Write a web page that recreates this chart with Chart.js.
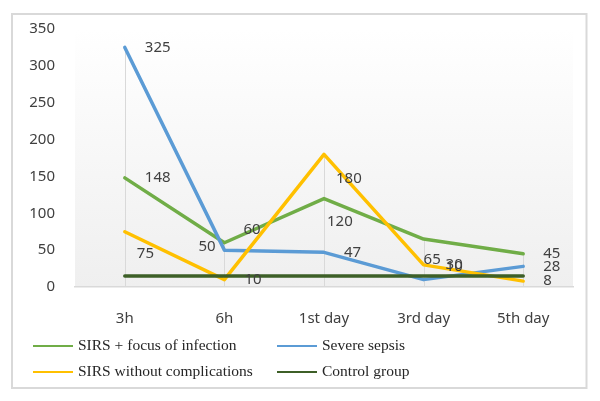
<!DOCTYPE html>
<html>
<head>
<meta charset="utf-8">
<script src="https://cdn.jsdelivr.net/npm/chart.js@4"></script>
<style>
  html, body { margin: 0; padding: 0; background: #fff; }
  canvas { display: block; }
</style>
</head>
<body>
<canvas id="chart" width="600" height="401"></canvas>
<script>
const categories = ['3h', '6h', '1st day', '3rd day', '5th day'];
const focusInfection = [148, 60, 120, 65, 45];
const severeSepsis = [325, 50, 47, 10, 28];
const sirsNoComplications = [75, 10, 180, 30, 8];
const controlGroup = [15, 15, 15, 15, 15];
const seriesNames = ['SIRS + focus of infection', 'Severe sepsis', 'SIRS without complications', 'Control group'];
const yMin = 0;
const yMax = 350;
const yStep = 50;

const colors = ['#70AD47', '#5B9BD5', '#FFC000', '#3D5F27'];
// where each value label sits relative to its point (dx, dy), null = no labels
const labelOffsets = [
  [[20, 0], [19, -13], [3, 23], [0, 21], [20, 0]],
  [[20, 0], [-26, -3], [20, 0], [22, -13], [20, 0]],
  [[12, 22], [20, 0], [12, 24], [22, 0], [20, 0]],
  null,
];

const sansFont = '"Noto Sans", sans-serif';
const serifFont = '"Liberation Serif", serif';

const frame = {
  id: 'frame',
  beforeDraw(chart) {
    const { ctx, chartArea: a } = chart;
    ctx.save();
    const g = ctx.createLinearGradient(0, a.top, 0, a.bottom);
    g.addColorStop(0, '#ffffff');
    g.addColorStop(1, '#efefef');
    ctx.fillStyle = g;
    ctx.fillRect(a.left, a.top, a.right - a.left, a.bottom - a.top);
    ctx.strokeStyle = '#d9d9d9';
    ctx.lineWidth = 2;
    ctx.strokeRect(12, 14, 574.5, 374);
    ctx.restore();
  },
};

// vertical lines from the highest point of each category down to the axis
const dropLines = {
  id: 'dropLines',
  beforeDatasetsDraw(chart) {
    const { ctx, scales: { x, y } } = chart;
    ctx.save();
    ctx.strokeStyle = '#d9d9d9';
    ctx.lineWidth = 1;
    categories.forEach((c, i) => {
      const top = Math.max(...chart.data.datasets.map((d) => d.data[i]));
      const px = Math.round(x.getPixelForValue(i)) + 0.5;
      ctx.beginPath();
      ctx.moveTo(px, y.getPixelForValue(top));
      ctx.lineTo(px, y.bottom);
      ctx.stroke();
    });
    ctx.restore();
  },
};

const valueLabels = {
  id: 'valueLabels',
  afterDatasetsDraw(chart) {
    const { ctx } = chart;
    ctx.save();
    ctx.font = '15px ' + sansFont;
    ctx.fillStyle = '#404040';
    ctx.textAlign = 'left';
    ctx.textBaseline = 'middle';
    chart.data.datasets.forEach((ds, di) => {
      const offs = labelOffsets[di];
      if (!offs) return;
      chart.getDatasetMeta(di).data.forEach((pt, i) => {
        ctx.fillText(String(ds.data[i]), pt.x + offs[i][0], pt.y + offs[i][1]);
      });
    });
    ctx.restore();
  },
};

const gridLegend = {
  id: 'gridLegend',
  afterDraw(chart) {
    const { ctx } = chart;
    const colX = [33, 277];
    const rowY = [346, 372];
    ctx.save();
    ctx.font = '15.5px ' + serifFont;
    ctx.textBaseline = 'middle';
    ctx.textAlign = 'left';
    chart.data.datasets.forEach((ds, i) => {
      const x0 = colX[i % 2];
      const y0 = rowY[Math.floor(i / 2)];
      ctx.strokeStyle = ds.borderColor;
      ctx.lineWidth = 2;
      ctx.beginPath();
      ctx.moveTo(x0, y0);
      ctx.lineTo(x0 + 40, y0);
      ctx.stroke();
      ctx.fillStyle = '#262626';
      ctx.fillText(ds.label, x0 + 45, y0);
    });
    ctx.restore();
  },
};

const seriesData = [focusInfection, severeSepsis, sirsNoComplications, controlGroup];

const ctx = document.getElementById('chart').getContext('2d');
const chart = new Chart(ctx, {
  type: 'line',
  data: {
    labels: categories,
    datasets: seriesData.map((data, i) => ({
      label: seriesNames[i],
      data,
      borderColor: colors[i],
      backgroundColor: colors[i],
      borderWidth: 3.5,
      pointRadius: 0,
      tension: 0,
      borderJoinStyle: 'round',
      borderCapStyle: 'round',
      order: seriesData.length - i,
    })),
  },
  options: {
    responsive: false,
    animation: false,
    devicePixelRatio: 1,
    layout: { padding: { left: 0, top: 25, right: 27, bottom: 0 } },
    plugins: {
      legend: { display: false },
      tooltip: { enabled: false },
    },
    scales: {
      x: {
        offset: true,
        grid: { display: false },
        border: { display: true, color: '#d9d9d9', width: 1.5 },
        ticks: { font: { family: sansFont, size: 15 }, color: '#404040', padding: 15 },
        afterFit(scale) { scale.height = 114; },
      },
      y: {
        min: yMin,
        max: yMax,
        grid: { display: false, drawTicks: false },
        border: { display: false },
        ticks: {
          stepSize: yStep,
          font: { family: sansFont, size: 15 },
          color: '#404040',
          padding: 20,
        },
        afterFit(scale) { scale.width = 75; },
      },
    },
  },
  plugins: [frame, dropLines, valueLabels, gridLegend],
});
</script>
</body>
</html>
